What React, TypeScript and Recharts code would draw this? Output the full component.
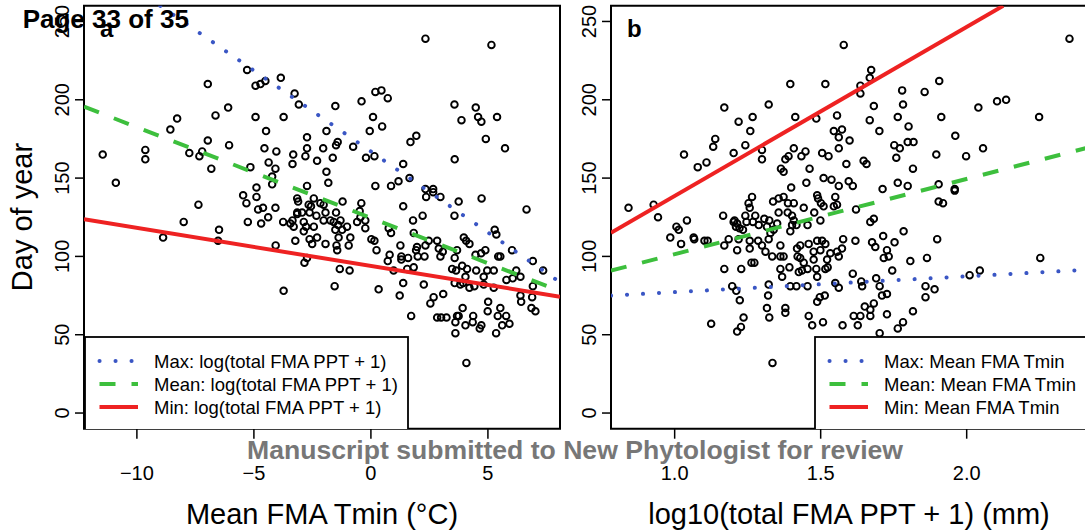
import React from "react";
import { ScatterChart, Scatter, XAxis, YAxis, ReferenceArea, Legend, Label } from "recharts";

const FONT = '"Liberation Sans", Arial, Helvetica, sans-serif';
const BLUE = "#3a56c4";
const GREEN = "#3dbf3d";
const RED = "#ee2222";

// panel a: day of year vs mean FMA Tmin
const aTmin = [
  -11.46, -10.9, -9.64, -9.64, -8.57, -8.28, -7.76, -7.33, -7.21, -6.97, -6.97, -6.82, -6.64, -6.1, -6.06,
  -5.29, -5.15, -4.93, -4.72, -4.51, -3.85, -4.93, -4.48, -4.55, -4.04, -4.37, -4.08, -4.22, -4.22, -3.73,
  -3.32, -3.35, -3.26, -3.08, -5.46, -4.89, -4.89, -3.15, -8.88, -8.0, -7.37, -6.49, -6.53, -5.32, -4.82,
  -4.61, -5.26, -4.69, -4.39, -4.08, -3.75, -3.44, -3.35, -3.3, -3.23, -3.15, -3.11, -4.07, -3.73, 2.33,
  5.15, -1.52, -0.4, 0.19, 0.45, 0.72, 0.09, -0.05, 0.48, -2.73, -2.73, -1.9, -2.04, -1.49, -1.42,
  -0.76, -2.8, -2.3, -1.63, -0.21, 0.15, -1.9, -1.82, -2.73, 0.19, 0.86, 1.18, 1.38, 1.69, 1.94,
  3.57, 3.87, 4.48, 4.58, 4.72, 5.39, 4.91, 5.73, 3.58, 1.65, 2.33, 2.66, 2.66, 2.97, 2.36,
  4.73, 3.75, -2.66, -2.56, -2.16, -2.02, -2.44, -1.21, -0.41, -0.48, -3.15, -2.94, -2.62, -2.33, -1.94,
  -1.49, -2.87, -2.77, -2.44, -2.02, -1.73, -1.59, -1.3, -1.4, -1.02, -0.59, -0.45, -0.24, -0.24, -2.87,
  -2.62, -2.3, -2.51, -1.94, -1.52, -1.23, -1.38, -0.88, -0.95, -1.47, -1.44, 0.02, 0.15, 0.24, 0.76,
  0.86, 1.38, 1.8, 2.21, 1.83, 1.97, 1.93, 2.33, 2.47, 2.83, 2.9, 2.97, 3.57, 1.26, 0.8,
  0.72, 1.3, 1.3, 1.59, 2.0, 2.29, -2.84, -2.73, -1.33, -0.91, 0.97, 1.55, 1.83, 3.07, 3.58,
  3.68, 3.97, 4.07, 4.21, 4.47, 4.71, 4.89, 5.29, 5.36, 5.44, 3.47, 3.64, 3.9, 4.11, 4.5,
  4.97, 4.04, 4.82, 3.58, 3.82, 3.94, 4.21, 4.42, 4.82, -1.55, 0.33, 1.38, 2.26, 1.23, 2.68,
  3.09, 2.54, 1.72, 2.83, 3.0, 3.23, 3.68, 3.92, 4.37, 5.01, 4.99, 6.65, 5.53, 6.03, 6.21,
  6.06, 6.39, 6.92, 7.36, 6.92, 6.89, 6.39, 6.42, 6.86, 7.03, 5.79, 5.78, 5.92, 5.61, 5.53,
  5.42, 5.35, 4.72, 4.65, 4.35, 4.04, 3.61, 3.61, 3.75, 4.08, 5.25, 5.25,
];
const aDay = [
  165, 147, 168, 162, 181, 188, 166, 164, 167, 210, 174, 156, 190, 195, 171,
  219, 157, 209, 210, 212, 214, 189, 180, 169, 167, 160, 156, 151, 146, 189,
  165, 159, 204, 197, 139, 144, 138, 137, 112, 122, 133, 117, 110, 134, 130,
  131, 122, 121, 125, 131, 122, 121, 123, 119, 110, 127, 135, 107, 78, 239,
  235, 196, 199, 205, 206, 201, 189, 180, 183, 176, 169, 180, 169, 171, 173,
  170, 164, 161, 163, 163, 164, 154, 147, 145, 145, 145, 148, 159, 173, 177,
  197, 187, 195, 189, 186, 189, 175, 169, 162, 150, 143, 143, 141, 138, 138,
  137, 135, 133, 132, 134, 133, 137, 135, 134, 129, 128, 128, 128, 126, 128,
  128, 122, 119, 119, 123, 123, 122, 123, 120, 119, 122, 125, 123, 118, 116,
  111, 112, 108, 108, 117, 117, 112, 112, 107, 107, 104, 111, 110, 104, 118,
  115, 132, 123, 126, 115, 106, 104, 107, 110, 110, 105, 100, 126, 107, 101,
  97, 100, 98, 99, 100, 100, 96, 99, 92, 91, 91, 92, 93, 103, 99,
  104, 112, 110, 108, 101, 102, 104, 117, 114, 100, 92, 91, 94, 92, 91,
  91, 87, 87, 83, 82, 83, 80, 81, 82, 81, 79, 83, 82, 75, 74,
  76, 70, 62, 61, 61, 61, 62, 67, 62, 71, 65, 130, 100, 104, 91,
  86, 87, 97, 91, 81, 74, 75, 71, 67, 65, 85, 62, 57, 56, 67,
  62, 51, 56, 54, 58, 56, 51, 58, 62, 32, 91, 80,
];

// panel b: day of year vs log10(total FMA PPT + 1)
const bPpt = [
  1.032, 1.079, 1.109, 1.132, 1.139, 1.17, 1.219, 1.202, 1.242, 1.259, 1.267, 1.299, 1.299, 1.322, 1.396,
  1.413, 1.408, 1.39, 1.379, 1.364, 1.373, 1.399, 1.265, 1.448, 1.434, 1.462, 1.451, 1.485, 1.505, 1.516,
  1.51, 1.488, 1.527, 1.579, 1.673, 1.668, 1.636, 1.636, 1.556, 1.682, 1.668, 1.701, 1.545, 1.573, 1.562,
  1.599, 1.562, 1.588, 1.647, 1.657, 1.537, 1.562, 1.596, 1.61, 1.55, 1.779, 1.782, 1.764, 1.801, 1.856,
  1.906, 1.913, 1.752, 1.771, 1.759, 1.798, 1.818, 1.816, 1.764, 1.798, 1.712, 1.896, 1.961, 1.998, 2.056,
  2.04, 2.104, 2.135, 2.248, 2.352, 1.904, 1.959, 1.959,
  1.253, 1.257, 1.337, 1.356, 1.373, 1.388, 1.408, 1.402, 1.408, 1.402, 1.396, 1.417, 1.387, 1.442, 1.356,
  1.491, 1.501, 1.51, 1.478, 1.499, 1.455, 1.545, 1.556, 1.621,
  1.166, 1.205, 1.214, 1.222, 1.234, 1.242, 1.246, 1.268, 1.276, 1.307, 1.316, 1.324, 1.351, 1.339, 1.288,
  1.067, 1.102, 1.113, 1.185, 1.219, 1.257, 1.286, 1.299, 1.322, 1.328, 1.214, 1.257, 1.362, 1.311, 1.334,
  1.362, 1.373, 1.419, 1.43, 1.421, 1.43, 1.459, 1.476, 1.488, 1.505, 1.516, 1.499, 1.522, 1.533, 1.556,
  1.573, 1.562, 1.577, 1.619, 1.676, 1.687, 1.714, 1.727, 1.716, 1.733, 1.753, 1.784, 1.807, 1.67, 1.682,
  1.263, 1.273, 1.228, 1.17, 1.442, 1.476, 1.362, 1.393, 1.425, 1.436, 1.455, 1.485, 1.516, 1.524, 1.488,
  1.368, 1.61, 1.69, 1.745,
  1.197, 1.223, 1.322, 1.32, 1.396, 1.417, 1.455, 1.55, 1.562, 1.497, 1.514, 1.682, 1.71, 1.727, 1.651,
  1.67, 1.316, 1.379, 1.379, 1.236, 1.459, 1.613, 1.636, 1.67, 1.816, 1.727,
  0.842, 0.928, 0.943, 1.006, 1.014, 1.042, 0.985, 1.022, 1.065, 1.17, 1.202, 1.21, 1.211, 1.227, 1.214,
  1.125, 1.335, 1.324, 1.471, 1.508, 1.488,
  1.904, 1.919, 1.899, 1.864, 1.639, 1.642, 1.702, 1.627, 1.575, 1.859, 1.89, 1.859, 1.782, 1.764, 1.702,
  2.01, 2.045, 2.252,
];
const bDay = [
  165, 157, 160, 170, 175, 195, 186, 166, 171, 180, 189, 168, 162, 197, 210,
  189, 169, 164, 162, 156, 154, 144, 138, 167, 164, 156, 147, 188, 166, 210,
  150, 139, 164, 235, 219, 214, 209, 204, 190, 196, 187, 180, 180, 181, 176,
  174, 169, 159, 161, 159, 149, 145, 148, 145, 138, 206, 197, 189, 183, 205,
  212, 189, 171, 169, 163, 173, 173, 156, 147, 145, 143, 165, 177, 164, 169,
  195, 199, 200, 189, 239, 146, 143, 142,
  134, 131, 135, 137, 138, 134, 134, 126, 123, 120, 116, 120, 128, 131, 128,
  137, 134, 132, 128, 123, 120, 132, 133, 130,
  126, 123, 121, 118, 117, 126, 122, 122, 126, 124, 119, 123, 121, 117, 120,
  111, 110, 110, 111, 111, 110, 110, 107, 111, 115, 104, 105, 107, 103, 100,
  100, 100, 105, 107, 100, 99, 108, 103, 110, 110, 108, 104, 98, 102, 103,
  105, 100, 111, 110, 109, 106, 113, 104, 99, 100, 109, 116, 97, 122, 124,
  96, 96, 92, 92, 96, 98, 92, 93, 90, 91, 92, 92, 92, 93, 87,
  87, 89, 86, 91,
  81, 72, 82, 75, 81, 81, 81, 83, 80, 74, 75, 70, 75, 76, 68,
  66, 67, 67, 64, 61, 62, 62, 62, 62, 65, 63,
  131, 133, 125, 119, 117, 123, 112, 108, 112, 107, 122, 119, 78, 55, 52,
  57, 32, 61, 56, 58, 71,
  135, 134, 111, 99, 84, 81, 81, 56, 56, 81, 79, 74, 58, 54, 51,
  88, 91, 99,
];

const dayTicks = [0, 50, 100, 150, 200, 250];
const tminTicks = [-10, -5, 0, 5];
const pptTicks = [1.0, 1.5, 2.0];

// fitted lines (intercept, slope) for the Max / Mean / Min models
const fitNames = ["Max", "Mean", "Min"];
const aFitIntercept = [167, 124.6, 93.9];
const aFitSlope = [-10.33, -5.79, -2.43];
const bFitIntercept = [67.1, 53.3, 30.7];
const bFitSlope = [10.1, 48.1, 107.9];

const lineStyles = [
  { stroke: BLUE, strokeWidth: 4, strokeDasharray: "0.1 15.9", strokeLinecap: "round" },
  { stroke: GREEN, strokeWidth: 4, strokeDasharray: "16 16" },
  { stroke: RED, strokeWidth: 4 },
];

const Y_DOMAIN = [-10, 260];

// clip y = a + b*x to the plotting box
function clipLine(a: number, b: number, xd: number[], yd: number[]) {
  let x0 = xd[0];
  let x1 = xd[1];
  if (b !== 0) {
    const xa = (yd[0] - a) / b;
    const xb = (yd[1] - a) / b;
    x0 = Math.max(x0, Math.min(xa, xb));
    x1 = Math.min(x1, Math.max(xa, xb));
  }
  return [
    { x: x0, y: a + b * x0 },
    { x: x1, y: a + b * x1 },
  ];
}

const Circle = (p: any) => (
  <circle cx={p.cx} cy={p.cy} r={3.3} fill="none" stroke="#000" strokeWidth={1.9} />
);
const NoDot = () => <g />;

function LegendBox({ labels, width, height }: { labels: string[]; width: number; height: number }) {
  return (
    <svg width={width} height={height} style={{ display: "block" }}>
      <rect x={1} y={1} width={width - 2} height={height + 4} fill="#fff" stroke="#000" strokeWidth={1.8} />
      {labels.map((lab, i) => {
        const yy = 25 + 23 * i;
        return (
          <g key={lab}>
            <line x1={15.5} x2={54} y1={yy} y2={yy} {...(lineStyles[i] as any)} />
            <text x={70} y={yy + 6.5} fontSize={18.5} fontFamily={FONT} fill="#000">
              {lab}
            </text>
          </g>
        );
      })}
    </svg>
  );
}

interface PanelProps {
  left: number;
  xs: number[];
  ys: number[];
  xDomain: number[];
  xTicks: number[];
  fmt: (v: number) => string;
  intercepts: number[];
  slopes: number[];
  legendLabels: string[];
  legendLeft: number;
  legendWidth: number;
  tag: string;
  xTitle: string;
  yTitle?: string;
}

function Panel(props: PanelProps) {
  const { left, xs, ys, xDomain, xTicks, fmt, intercepts, slopes, legendLabels, legendLeft, legendWidth, tag, xTitle, yTitle } = props;
  const pts = xs.map((x, i) => ({ x, y: ys[i] }));
  const legendTop = 335.5;
  const legendHeight = 93.5;
  return (
    <div style={{ position: "absolute", left, top: 0 }}>
      <ScatterChart width={580} height={532} margin={{ top: 5.8, right: 20, bottom: 0, left: 0 }}>
        <XAxis
          type="number"
          dataKey="x"
          domain={xDomain}
          ticks={xTicks}
          interval={0}
          allowDataOverflow
          height={103.3}
          axisLine={false}
          tickSize={10}
          tickLine={{ stroke: "#000", strokeWidth: 1.5 }}
          tick={(p: any) => (
            <text x={p.x} y={480} textAnchor="middle" fontSize={20} fontFamily={FONT} fill="#000">
              {fmt(p.payload.value)}
            </text>
          )}
        >
          <Label
            content={() => (
              <text x={322} y={524} textAnchor="middle" fontSize={29} fontFamily={FONT} fill="#000">
                {xTitle}
              </text>
            )}
          />
        </XAxis>
        <YAxis
          type="number"
          dataKey="y"
          domain={Y_DOMAIN}
          ticks={dayTicks}
          interval={0}
          allowDataOverflow
          width={84}
          axisLine={false}
          tickSize={9}
          tickLine={{ stroke: "#000", strokeWidth: 1.5 }}
          tick={(p: any) => (
            <text
              transform={`translate(69,${p.y}) rotate(-90)`}
              textAnchor="middle"
              fontSize={20}
              fontFamily={FONT}
              fill="#000"
            >
              {p.payload.value}
            </text>
          )}
        >
          {yTitle ? (
            <Label
              content={() => (
                <text
                  transform="translate(32,217) rotate(-90)"
                  textAnchor="middle"
                  fontSize={29}
                  fontFamily={FONT}
                  fill="#000"
                >
                  {yTitle}
                </text>
              )}
            />
          ) : null}
        </YAxis>
        <Scatter data={pts} shape={Circle} isAnimationActive={false} legendType="none" />
        {fitNames.map((n, i) => (
          <Scatter
            key={n}
            name={n}
            data={clipLine(intercepts[i], slopes[i], xDomain, Y_DOMAIN)}
            line={lineStyles[i] as any}
            shape={NoDot}
            isAnimationActive={false}
            legendType="none"
          />
        ))}
        <ReferenceArea
          x1={xDomain[0]}
          x2={xDomain[1]}
          y1={Y_DOMAIN[0]}
          y2={Y_DOMAIN[1]}
          fill="none"
          stroke="#000"
          strokeWidth={2}
          ifOverflow="visible"
        >
          <Label
            content={() => (
              <text x={100} y={37} fontSize={24} fontWeight="bold" fontFamily={FONT} fill="#000">
                {tag}
              </text>
            )}
          />
        </ReferenceArea>
        <Legend
          layout="vertical"
          align="center"
          verticalAlign="middle"
          wrapperStyle={{ left: legendLeft, top: legendTop, width: legendWidth, height: legendHeight, bottom: "auto", right: "auto" }}
          content={() => <LegendBox labels={legendLabels} width={legendWidth} height={legendHeight} />}
        />
      </ScatterChart>
    </div>
  );
}

const fmtTmin = (v: number) => (v < 0 ? "\u2212" + Math.abs(v) : String(v));
const fmtPpt = (v: number) => v.toFixed(1);

export default function App() {
  return (
    <div
      style={{
        position: "fixed",
        left: 0,
        top: 0,
        width: 1085,
        height: 532,
        overflow: "hidden",
        background: "#fff",
        fontFamily: FONT,
      }}
    >
      <Panel
        left={0}
        xs={aTmin}
        ys={aDay}
        xDomain={[-12.26, 8.08]}
        xTicks={tminTicks}
        fmt={fmtTmin}
        intercepts={aFitIntercept}
        slopes={aFitSlope}
        legendLabels={fitNames.map((n) => `${n}: log(total FMA PPT + 1)`)}
        legendLeft={84}
        legendWidth={325}
        tag="a"
        xTitle={"Mean FMA Tmin (\u00B0C)"}
        yTitle="Day of year"
      />
      <Panel
        left={526.7}
        xs={bPpt}
        ys={bDay}
        xDomain={[0.782, 2.412]}
        xTicks={pptTicks}
        fmt={fmtPpt}
        intercepts={bFitIntercept}
        slopes={bFitSlope}
        legendLabels={fitNames.map((n) => `${n}: Mean FMA Tmin`)}
        legendLeft={287.3}
        legendWidth={290}
        tag="b"
        xTitle="log10(total FMA PPT + 1) (mm)"
      />
      <svg
        width={1085}
        height={532}
        style={{ position: "absolute", left: 0, top: 0, pointerEvents: "none" }}
      >
        <text x={22.7} y={28.3} fontSize={26} fontWeight="bold" fontFamily={FONT} fill="#000">
          Page 33 of 35
        </text>
        <text
          x={247}
          y={459.3}
          fontSize={26}
          fontWeight="bold"
          fontFamily={FONT}
          fill="#777"
          textLength={656}
          lengthAdjust="spacingAndGlyphs"
        >
          Manuscript submitted to New Phytologist for review
        </text>
      </svg>
    </div>
  );
}
